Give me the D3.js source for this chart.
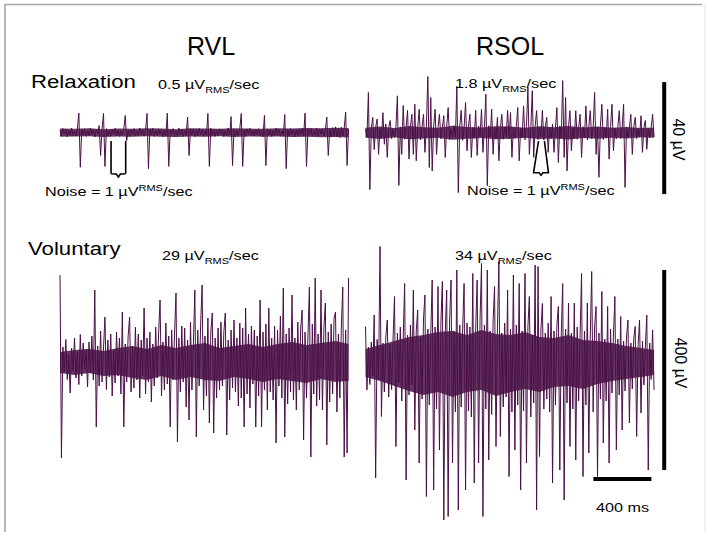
<!DOCTYPE html>
<html><head><meta charset="utf-8">
<script src="https://cdn.jsdelivr.net/npm/d3@7"></script>
<style>
body{margin:0;background:#fff}
svg{display:block}
text{font-family:"Liberation Sans",Arial,sans-serif;fill:#000}
</style>
</head><body>
<svg id="chart" width="712" height="538"></svg>
<script>
// ---- data (µV samples every 10 ms) ----
const sampleMs = 10;
const envelopeMs = 100;
const muscles = ["RVL", "RSOL"];
const conditions = ["Relaxation", "Voluntary"];
const rmsLabels = ["0.5", "1.8", "29", "34"];
const noiseLabel = "1";

const rvlRelax = [
 0.8,-1.2,1.4,-0.6,1.1,-1.5,0.7,-0.9,1.6,-1.1,
 0.5,-1.3,1.2,6.9,-12.4,1.0,-0.8,1.3,-1.4,0.6,
 -1.0,1.5,-0.7,1.1,-1.6,0.9,-0.5,2.5,-8.2,1.2,
 6.8,-12.1,1.4,-1.1,0.7,-1.3,1.0,-0.6,1.5,-1.2,
 0.9,-1.4,0.6,-1.0,1.3,6.1,-2.9,0.8,-1.5,1.1,
 -0.7,1.4,-1.2,0.5,-1.1,1.6,-0.8,1.0,-1.3,0.7,
 6.8,-12.9,1.2,-0.9,1.5,-1.4,0.6,-1.0,1.3,-0.7,
 1.1,-1.5,0.8,-1.2,6.9,-12.1,1.0,-0.6,1.4,-1.1,
 0.7,-1.3,1.6,-0.9,1.2,-1.4,0.5,-1.0,5.5,-8.2,
 1.3,-0.8,1.1,-1.5,0.9,-1.2,1.4,-0.7,1.0,-1.3,
 0.6,-1.1,6.8,-12.1,1.5,-0.9,1.2,-1.4,0.8,-1.0,
 1.3,-0.6,1.1,-1.5,0.7,-1.2,1.6,-0.9,5.7,-11.8,
 1.0,-1.3,0.8,-1.1,1.4,6.8,-12.1,0.9,-1.4,1.2,
 -0.7,1.5,-1.0,0.6,-1.3,1.1,-0.8,1.4,-1.2,0.9,
 -1.5,6.1,-11.8,1.3,-0.9,1.0,-1.4,0.7,-1.1,1.6,
 -0.8,1.2,-1.3,0.5,-1.0,6.4,-12.9,1.1,-1.2,1.4,
 -0.7,1.0,-1.5,0.8,-1.1,1.3,-0.9,1.5,-1.2,6.9,
 -12.1,1.2,-0.8,1.4,-1.3,0.7,-1.0,1.6,-1.4,1.1,
 -0.6,1.3,-1.2,0.9,5.5,-8.2,1.0,-1.5,1.7,-1.3,
 2.0,-1.6,1.4,-1.8,1.9,-1.2,1.5,7.3,-11.8,1.2
];

const rsolRelax = [
 1.2,-1.6,14.3,-20.4,1.5,5.4,-6.1,1.8,4.8,-7.8,
 1.4,-2.0,7.1,-4.2,3.0,-8.9,1.7,4.3,-2.2,1.3,
 -1.8,2.1,13.1,-18.9,2.0,-7.8,9.6,-2.4,1.9,7.9,
 -9.5,2.2,6.5,-7.8,10.1,-10.1,1.5,8.3,-2.6,1.8,
 6.5,-7.1,2.3,20.0,-12.5,12.5,-13.7,2.0,8.3,-7.8,
 1.6,6.5,-2.3,1.9,6.0,-8.9,2.1,8.9,-2.5,1.4,
 -1.9,2.4,-1.7,16.5,-21.5,2.2,7.9,-2.8,1.6,10.7,
 -6.5,2.0,6.5,-8.9,1.8,-2.1,7.9,-8.2,2.3,-1.5,
 8.3,-7.1,1.7,13.7,-19.0,2.4,-1.8,8.3,-7.8,1.9,
 -2.2,5.4,-10.1,1.6,6.5,-2.4,2.0,-1.7,7.9,-2.3,
 7.1,-8.9,1.8,-2.0,2.2,8.9,-10.1,1.5,-1.9,9.5,
 -2.6,2.1,16.1,-7.8,1.4,14.9,-8.9,2.2,7.8,-2.5,
 1.8,-1.6,7.9,-2.7,2.0,5.4,-7.1,1.9,-2.1,3.0,
 -7.1,1.6,8.9,-10.7,2.3,-1.8,18.5,-8.9,12.5,-13.7,
 2.0,7.8,-6.5,1.7,-2.2,7.8,-2.4,1.5,6.5,-8.9,
 2.1,-1.9,9.5,-2.6,1.8,7.8,-2.2,1.6,14.3,-7.8,
 1.9,-16.0,2.2,10.1,-2.5,1.7,-2.0,8.3,-9.5,2.1,
 10.1,-6.5,1.6,-2.3,1.9,7.8,-2.1,1.5,10.1,-19.6,
 2.0,-1.8,1.6,6.5,-7.8,1.9,5.4,-2.2,1.4,-1.7,
 6.0,-7.1,1.8,4.3,-6.0,1.5,-1.9,1.7,6.5,-1.6
];

const rvlVol = [
 174,-192,30,-20,45,-35,15,-62,28,-18,
 48,-32,20,-45,55,-28,38,-15,25,-50,
 40,-22,52,-36,144,-130,32,-48,62,-40,
 28,90,-55,44,-30,56,-68,24,-42,60,
 -28,48,-64,100,-130,36,-40,52,90,-60,
 32,-52,70,-36,56,-72,44,-28,108,-64,
 48,-40,60,-80,36,-48,70,-32,56,124,
 -68,40,-56,78,-44,52,-130,64,-36,56,
 138,-160,48,-60,72,-40,68,-90,44,-116,
 80,-56,36,144,-150,64,-48,76,154,-96,
 52,-68,88,-122,60,98,-142,48,-72,68,
 -56,80,-48,60,98,-146,44,-76,64,-52,
 84,-60,48,-88,78,-72,68,-130,108,-64,
 56,-92,72,-44,64,-130,52,-68,124,-130,
 60,-56,76,-96,108,-60,48,-76,72,-162,
 64,-48,92,-72,148,-150,56,-84,68,-60,
 134,-76,48,-96,80,-56,68,104,-156,60,
 -72,52,150,-190,76,-64,168,-88,56,-76,
 144,-96,68,118,-166,60,-80,76,-64,88,
 100,-100,56,-72,68,150,-190,64,-182,168
];

const rsolVol = [
 71,-56,30,-45,40,-28,94,-232,45,-35,
 231,-109,38,-60,50,84,-70,35,-55,46,
 131,-169,58,-42,70,-78,46,157,-236,54,
 -66,74,-46,144,-136,62,104,-202,50,-74,
 86,134,-269,66,-86,54,164,-256,70,-94,
 151,-176,78,161,-316,58,144,-309,82,164,
 -202,62,-100,184,-296,74,-90,66,157,-256,
 78,-98,70,-110,177,-242,66,164,-202,86,
 197,-309,74,-94,184,-196,62,-105,82,151,
 -169,70,201,-149,58,-90,78,-70,144,-229,
 66,-100,174,-176,74,-86,157,-256,62,-98,
 177,-202,70,131,-110,54,-82,194,-296,191,
 -189,66,117,-94,58,-74,78,-100,131,-242,
 62,-86,74,111,-216,54,157,-276,66,-82,
 118,-169,58,-94,118,-196,70,-78,54,177,
 -229,62,-86,118,-182,50,181,-100,70,111,
 -229,58,-74,141,-162,46,-78,111,-202,66,
 -62,54,131,-176,46,-66,91,-136,42,-58,
 50,84,-122,38,-54,46,71,-149,35,84,
 -102,42,-46,30,94,-216,38,-35,64,-56
];

const rvlRelaxCoreHi = [1.4,1.3,1.5,1.2,1.4,1.3,1.5,1.4,1.2,1.5,1.4,1.3,1.5,1.4,1.3,1.5,1.4,1.6,1.5,1.7,1.6];
const rvlRelaxCoreLo = [-1.5,-1.4,-1.3,-1.6,-1.4,-1.5,-1.3,-1.5,-1.6,-1.4,-1.5,-1.3,-1.6,-1.4,-1.5,-1.4,-1.6,-1.5,-1.7,-1.6,-1.8];
const rsolRelaxCoreHi = [1.7,2.1,1.6,2.3,1.9,1.7,2.4,2.0,1.8,2.2,2.1,1.7,2.2,1.9,2.3,1.8,2.1,1.7,2.0,1.6,1.8];
const rsolRelaxCoreLo = [-1.9,-2.3,-1.7,-2.4,-2.1,-1.9,-2.6,-2.2,-2.0,-2.4,-2.2,-1.9,-2.3,-2.1,-2.5,-2.0,-2.2,-1.9,-2.1,-1.7,-1.9];
const rvlVolCoreHi = [20,24,26,22,28,32,26,34,28,34,38,28,32,36,30,36,40,34,38,42,36];
const rvlVolCoreLo = [-22,-26,-22,-28,-26,-32,-36,-28,-36,-30,-36,-38,-30,-34,-40,-34,-38,-42,-34,-40,-38];
const rsolVolCoreHi = [26,34,42,50,54,60,62,54,64,56,54,60,50,48,54,44,42,38,32,28,24];
const rsolVolCoreLo = [-30,-38,-48,-58,-66,-60,-70,-60,-56,-68,-60,-54,-60,-50,-48,-54,-44,-38,-34,-30,-26];

// scale bars and noise brackets in data units
const relaxBarUV = [-22, 18];     // 40 µV
const volBarUV = [-216, 184];     // 400 µV
const timeBarMs = [1572, 1972];   // 400 ms
const timeBarLevelUV = -234;
const barTimeMs = 2060;
const rvlNoise = {top: [352, 453], bottom: [352, 453], uv: [-3.0, -14.8]};
const rsolNoise = {top: [1193, 1234], bottom: [1159, 1262], uv: [-3.1, -14.4]};

// ---- drawing ----
const color = "#4a1046";
const svg = d3.select("#chart");

const xLeft = d3.scaleLinear().domain([0, 2000]).range([60, 350]);
const xRight = d3.scaleLinear().domain([0, 2000]).range([365.5, 655.5]);
const yRelax = d3.scaleLinear().domain([-20, 20]).range([188.5, 76.5]);
const yVol = d3.scaleLinear().domain([-200, 200]).range([462, 262]);

// frame
svg.append("line").attr("x1", 5).attr("x2", 702).attr("y1", 4.5).attr("y2", 4.5)
  .attr("stroke", "#a8a8a8").attr("stroke-width", 1.5);
svg.append("line").attr("x1", 5).attr("x2", 5).attr("y1", 4).attr("y2", 532)
  .attr("stroke", "#a0a0a0").attr("stroke-width", 1.5);
svg.append("line").attr("x1", 705).attr("x2", 705).attr("y1", 4).attr("y2", 532)
  .attr("stroke", "#e2e2e2").attr("stroke-width", 1);

const traces = [
  {data: rvlRelax, hi: rvlRelaxCoreHi, lo: rvlRelaxCoreLo, x: xLeft, y: yRelax},
  {data: rsolRelax, hi: rsolRelaxCoreHi, lo: rsolRelaxCoreLo, x: xRight, y: yRelax},
  {data: rvlVol, hi: rvlVolCoreHi, lo: rvlVolCoreLo, x: xLeft, y: yVol},
  {data: rsolVol, hi: rsolVolCoreHi, lo: rsolVolCoreLo, x: xRight, y: yVol}
];
const lastMs = (rvlRelax.length - 1) * sampleMs;
traces.forEach(t => {
  // dense core of the recording
  const env = t.hi.map((h, i) => ({t: Math.min(i * envelopeMs, lastMs), hi: h, lo: t.lo[i]}));
  const area = d3.area().x(d => t.x(d.t)).y0(d => t.y(d.lo)).y1(d => t.y(d.hi));
  svg.append("path").datum(env).attr("d", area).attr("fill", color).attr("fill-opacity", 0.85);
  // individual samples
  const line = d3.line().x((d, i) => t.x(i * sampleMs)).y(d => t.y(d));
  svg.append("path").datum(t.data).attr("d", line)
    .attr("fill", "none").attr("stroke", color).attr("stroke-width", 1);
});

// noise brackets
function rvlBracket(b, xs, ys) {
  const xl = xs(b.top[0]), xr = xs(b.top[1]), yt = ys(b.uv[0]), yb = ys(b.uv[1]);
  const xm = (xl + xr) / 2;
  return `M${xl},${yt}V${yb - 1}Q${xl},${yb} ${xl + 2},${yb}H${xm - 2}L${xm},${yb + 3}L${xm + 2},${yb}H${xr - 2}Q${xr},${yb} ${xr},${yb - 1}V${yt}`;
}
function rsolBracket(b, xs, ys) {
  const xtl = xs(b.top[0]), xtr = xs(b.top[1]), xbl = xs(b.bottom[0]), xbr = xs(b.bottom[1]);
  const yt = ys(b.uv[0]), yb = ys(b.uv[1]);
  const xm = (xbl + xbr) / 2;
  return `M${xtl},${yt}L${xbl},${yb}H${xm - 2}L${xm},${yb + 2.5}L${xm + 2},${yb}H${xbr}L${xtr},${yt}`;
}
svg.append("path").attr("d", rvlBracket(rvlNoise, xLeft, yRelax))
  .attr("fill", "none").attr("stroke", "#000").attr("stroke-width", 1.6);
svg.append("path").attr("d", rsolBracket(rsolNoise, xRight, yRelax))
  .attr("fill", "none").attr("stroke", "#000").attr("stroke-width", 1.6);

// scale bars
const barX = xRight(barTimeMs);
svg.append("line").attr("x1", barX).attr("x2", barX)
  .attr("y1", yRelax(relaxBarUV[0])).attr("y2", yRelax(relaxBarUV[1]))
  .attr("stroke", "#000").attr("stroke-width", 4);
svg.append("line").attr("x1", barX).attr("x2", barX)
  .attr("y1", yVol(volBarUV[0])).attr("y2", yVol(volBarUV[1]))
  .attr("stroke", "#000").attr("stroke-width", 4);
svg.append("line").attr("x1", xRight(timeBarMs[0])).attr("x2", xRight(timeBarMs[1]))
  .attr("y1", yVol(timeBarLevelUV)).attr("y2", yVol(timeBarLevelUV))
  .attr("stroke", "#000").attr("stroke-width", 4);

// text helper
function label(x, y, parts, size, anchor, stretch) {
  const t = svg.append("text")
    .attr("transform", `translate(${x},${y}) scale(${stretch || 1.2},1)`)
    .attr("font-size", size).attr("text-anchor", anchor || "start");
  let shift = 0;
  parts.forEach(p => {
    const s = t.append("tspan").text(p.t);
    let target = 0, fs = size;
    if (p.k === "sub") { target = size * 0.32; fs = size * 0.68; }
    if (p.k === "sup") { target = -size * 0.4; fs = size * 0.68; }
    s.attr("font-size", fs).attr("dy", target - shift);
    shift = target;
  });
  return t;
}
const rmsParts = v => [{t: v + " µV"}, {t: "RMS", k: "sub"}, {t: "/sec"}];
const noiseParts = [{t: "Noise = " + noiseLabel + " µV"}, {t: "RMS", k: "sup"}, {t: "/sec"}];

label(211, 55, [{t: muscles[0]}], 25, "middle", 1.0);
label(510, 55, [{t: muscles[1]}], 25, "middle", 1.0);
label(31, 88, [{t: conditions[0]}], 18.5);
label(28, 255, [{t: conditions[1]}], 18.5);
label(158, 89, rmsParts(rmsLabels[0]), 13.5);
label(455, 88, rmsParts(rmsLabels[1]), 13.5);
label(162, 260, rmsParts(rmsLabels[2]), 13.5);
label(455, 260, rmsParts(rmsLabels[3]), 13.5);
label(45, 196, noiseParts, 13.5);
label(467, 195, noiseParts, 13.5);
label(596, 512, [{t: (timeBarMs[1] - timeBarMs[0]) + " ms"}], 13.5);

// rotated amplitude labels
function vlabel(cx, cy, txt) {
  svg.append("text").attr("transform", `translate(${cx},${cy}) rotate(90)`)
    .attr("font-size", 16).attr("text-anchor", "middle").attr("dy", "0.35em").text(txt);
}
vlabel(barX + 14, yRelax(-2.5), (relaxBarUV[1] - relaxBarUV[0]) + " µV");
vlabel(barX + 16, yVol(-2), (volBarUV[1] - volBarUV[0]) + " µV");
</script>
</body></html>
